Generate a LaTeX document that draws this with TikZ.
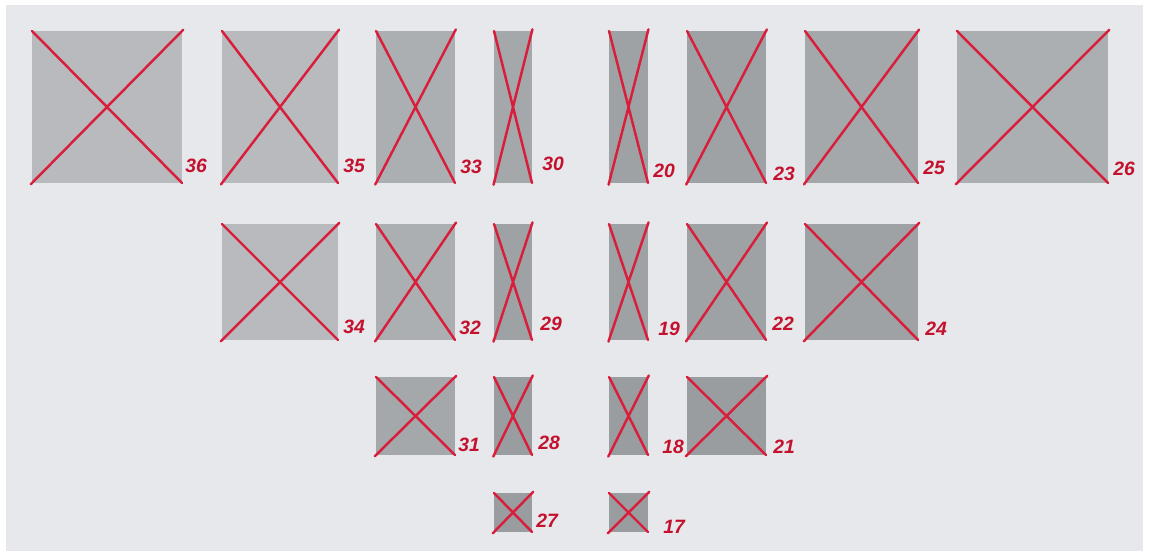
\documentclass[tikz,border=0pt]{standalone}
\usepackage{fontspec}
\setmainfont{Liberation Sans}
\usepackage{xcolor}
\definecolor{paper}{HTML}{E7E8EB}
\definecolor{crossred}{HTML}{D91E3C}
\definecolor{numred}{HTML}{C4122E}
\definecolor{greyA}{HTML}{B8BABD}
\definecolor{greyB}{HTML}{ACAFB1}
\definecolor{greyC}{HTML}{A5A8AA}
\definecolor{greyD}{HTML}{9FA2A4}
\definecolor{greyE}{HTML}{9A9D9F}
\usetikzlibrary{positioning,calc}

\begin{document}
\begin{tikzpicture}[
        x=0.02cm, y=-0.02cm,
        box/.style   = {inner sep=0pt, outer sep=0pt, minimum width=#1},
        rowA/.style  = {minimum height=3.04cm},
        rowB/.style  = {minimum height=2.32cm},
        rowC/.style  = {minimum height=1.56cm},
        rowD/.style  = {minimum height=0.78cm},
        cross/.style = {draw=crossred, line width=1.4pt, line cap=round,
                        shorten <=-1pt, shorten >=-1pt},
        num/.style   = {text=numred, inner sep=0pt, anchor=base west,
                        font=\fontsize{11}{13}\selectfont\bfseries\itshape}
    ]
        % ---- page ----
        \fill[white] (0,0) rectangle (1151,551);
        \fill[paper] (6,5) rectangle (1143,551);

        % ---- top row ----
        \node[box=3.00cm, rowA, fill=greyA] (b36) at (107,107) {};
        \node[box=2.32cm, rowA, fill=greyA] (b35) at (280,107) {};
        \node[box=1.58cm, rowA, fill=greyB] (b33) at (415.5,107) {};
        \node[box=0.76cm, rowA, fill=greyC] (b30) at (513,107) {};
        \node[box=0.78cm, rowA, fill=greyD] (b20) at (628.5,107) {};
        \node[box=1.58cm, rowA, fill=greyD] (b23) at (726.5,107) {};
        \node[box=2.26cm, rowA, fill=greyC] (b25) at (861.5,107) {};
        \node[box=3.02cm, rowA, fill=greyB] (b26) at (1032.5,107) {};

        % ---- second row ----
        \node[box=2.32cm, rowB, fill=greyA] (b34) at (280,282) {};
        \node[box=1.58cm, rowB, fill=greyB] (b32) at (415.5,282) {};
        \node[box=0.76cm, rowB, fill=greyD] (b29) at (513,282) {};
        \node[box=0.78cm, rowB, fill=greyD] (b19) at (628.5,282) {};
        \node[box=1.58cm, rowB, fill=greyD] (b22) at (726.5,282) {};
        \node[box=2.26cm, rowB, fill=greyD] (b24) at (861.5,282) {};

        % ---- third row ----
        \node[box=1.58cm, rowC, fill=greyC] (b31) at (415.5,416) {};
        \node[box=0.76cm, rowC, fill=greyE] (b28) at (513,416) {};
        \node[box=0.78cm, rowC, fill=greyE] (b18) at (628.5,416) {};
        \node[box=1.58cm, rowC, fill=greyE] (b21) at (726.5,416) {};

        % ---- bottom row ----
        \node[box=0.76cm, rowD, fill=greyE] (b27) at (513,512.5) {};
        \node[box=0.78cm, rowD, fill=greyE] (b17) at (628.5,512.5) {};

        % ---- crosses ----
        \draw[cross] (b36.north west) -- (b36.south east) (b36.south west) -- (b36.north east);
        \draw[cross] (b35.north west) -- (b35.south east) (b35.south west) -- (b35.north east);
        \draw[cross] (b33.north west) -- (b33.south east) (b33.south west) -- (b33.north east);
        \draw[cross] (b30.north west) -- (b30.south east) (b30.south west) -- (b30.north east);
        \draw[cross] (b20.north west) -- (b20.south east) (b20.south west) -- (b20.north east);
        \draw[cross] (b23.north west) -- (b23.south east) (b23.south west) -- (b23.north east);
        \draw[cross] (b25.north west) -- (b25.south east) (b25.south west) -- (b25.north east);
        \draw[cross] (b26.north west) -- (b26.south east) (b26.south west) -- (b26.north east);
        \draw[cross] (b34.north west) -- (b34.south east) (b34.south west) -- (b34.north east);
        \draw[cross] (b32.north west) -- (b32.south east) (b32.south west) -- (b32.north east);
        \draw[cross] (b29.north west) -- (b29.south east) (b29.south west) -- (b29.north east);
        \draw[cross] (b19.north west) -- (b19.south east) (b19.south west) -- (b19.north east);
        \draw[cross] (b22.north west) -- (b22.south east) (b22.south west) -- (b22.north east);
        \draw[cross] (b24.north west) -- (b24.south east) (b24.south west) -- (b24.north east);
        \draw[cross] (b31.north west) -- (b31.south east) (b31.south west) -- (b31.north east);
        \draw[cross] (b28.north west) -- (b28.south east) (b28.south west) -- (b28.north east);
        \draw[cross] (b18.north west) -- (b18.south east) (b18.south west) -- (b18.north east);
        \draw[cross] (b21.north west) -- (b21.south east) (b21.south west) -- (b21.north east);
        \draw[cross] (b27.north west) -- (b27.south east) (b27.south west) -- (b27.north east);
        \draw[cross] (b17.north west) -- (b17.south east) (b17.south west) -- (b17.north east);

        % ---- numbers ----
        \node[num] (n36) at (185,172) {36};
        \node[num] (n35) at (343,172) {35};
        \node[num] (n33) at (460,173) {33};
        \node[num] (n30) at (542,170) {30};
        \node[num] (n20) at (653,177) {20};
        \node[num] (n23) at (773,180) {23};
        \node[num] (n25) at (923,174) {25};
        \node[num] (n26) at (1113,175) {26};
        \node[num] (n34) at (343,333) {34};
        \node[num] (n32) at (459,334) {32};
        \node[num] (n29) at (540,330) {29};
        \node[num] (n19) at (658,335) {19};
        \node[num] (n22) at (772,330) {22};
        \node[num] (n24) at (925,335) {24};
        \node[num] (n31) at (458,451) {31};
        \node[num] (n28) at (538,449) {28};
        \node[num] (n18) at (662,453) {18};
        \node[num] (n21) at (773,453) {21};
        \node[num] (n27) at (536,527) {27};
        \node[num] (n17) at (663,533) {17};
    \end{tikzpicture}
\end{document}
